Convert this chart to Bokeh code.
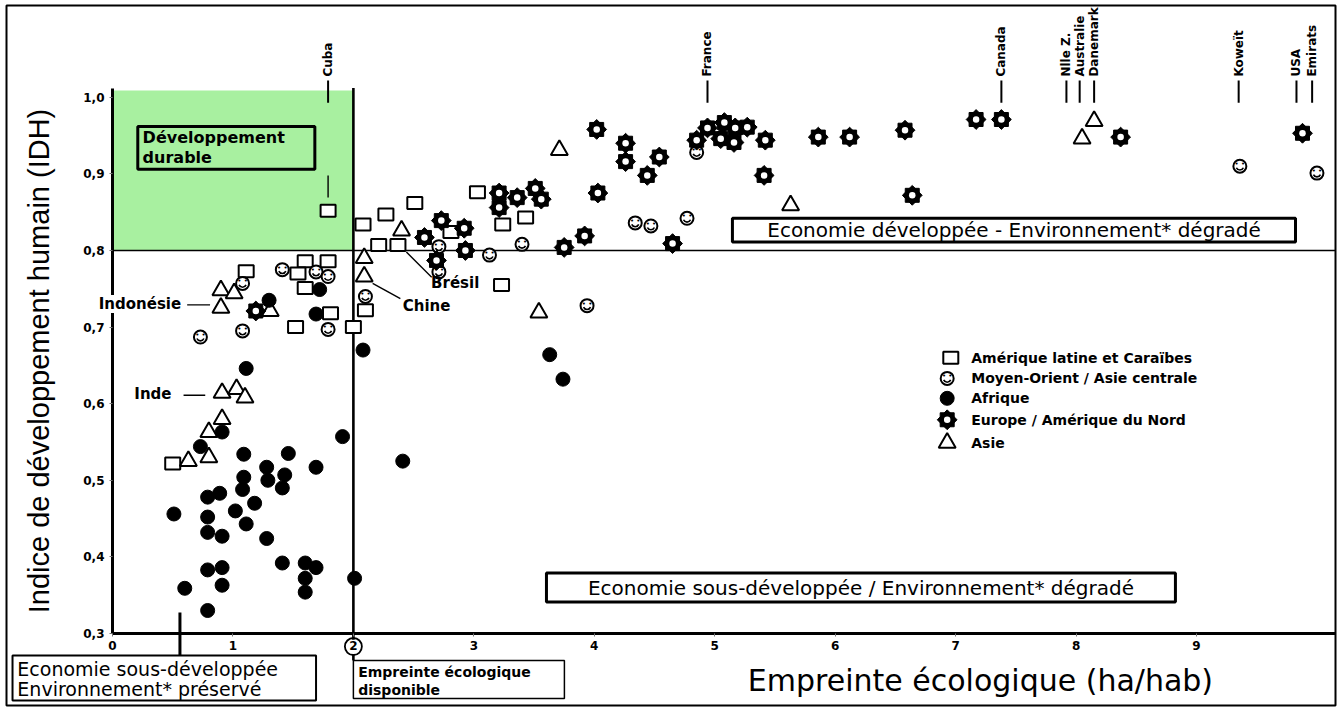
import math
from bokeh.plotting import figure
from bokeh.models import Range1d, FixedTicker, CustomJSTickFormatter, BoxAnnotation, Label
from bokeh.core.properties import value
from bokeh.embed import file_html
from bokeh.resources import INLINE

FONT = "DejaVu Sans"

# ---------------- data ----------------
categories = ["Amérique latine et Caraïbes", "Moyen-Orient / Asie centrale",
              "Afrique", "Europe / Amérique du Nord", "Asie"]

latam_x = [1.79, 2.08, 2.27, 2.51, 2.21, 2.37, 3.03, 3.24, 3.43, 2.81, 3.23, 2.10, 2.00,
           1.11, 1.60, 1.79, 1.54, 1.60, 1.81, 1.52, 0.50]
latam_y = [0.852, 0.834, 0.847, 0.862, 0.807, 0.807, 0.876, 0.834, 0.843, 0.824, 0.755, 0.722, 0.700,
           0.773, 0.786, 0.786, 0.770, 0.751, 0.718, 0.700, 0.522]

mo_x = [0.73, 1.08, 1.08, 1.41, 1.69, 1.79, 1.79, 2.10, 2.71, 2.71, 3.13, 3.40, 3.94,
        4.85, 4.34, 4.47, 4.77, 9.36, 10.0]
mo_y = [0.687, 0.695, 0.757, 0.775, 0.772, 0.766, 0.697, 0.740, 0.805, 0.772, 0.794, 0.808, 0.728,
        0.928, 0.836, 0.832, 0.842, 0.910, 0.901]

af_x = [1.30, 1.72, 1.69, 2.08, 1.11, 0.91, 0.73, 1.09, 1.46, 1.28, 1.09, 1.29, 1.43, 1.69,
        1.91, 2.41, 0.89, 0.79, 1.08, 1.41, 0.51, 0.79, 1.02, 1.18, 0.79, 0.91, 1.11, 1.28,
        1.41, 1.60, 1.69, 1.60, 1.60, 2.01, 0.79, 0.91, 0.91, 0.60, 0.79, 3.63, 3.74]
af_y = [0.735, 0.749, 0.717, 0.670, 0.646, 0.563, 0.544, 0.534, 0.535, 0.517, 0.504, 0.500, 0.507, 0.517,
        0.557, 0.525, 0.483, 0.478, 0.488, 0.490, 0.456, 0.452, 0.460, 0.470, 0.432, 0.427, 0.443, 0.424,
        0.392, 0.392, 0.386, 0.372, 0.354, 0.372, 0.383, 0.386, 0.363, 0.359, 0.330, 0.664, 0.632]

eu_x = [1.19, 2.73, 2.59, 2.92, 2.93, 2.69, 3.21, 3.21, 3.36, 3.51, 3.56, 3.75, 3.92, 4.03,
        4.02, 4.26, 4.26, 4.54, 4.44, 4.65, 4.85, 4.94, 5.08, 5.05, 5.16, 5.17, 5.27, 5.42,
        5.41, 5.86, 6.12, 6.58, 6.64, 7.17, 7.38, 8.37, 9.88]
eu_y = [0.721, 0.839, 0.817, 0.829, 0.800, 0.787, 0.875, 0.856, 0.869, 0.881, 0.867, 0.804, 0.819, 0.875,
        0.958, 0.940, 0.916, 0.922, 0.898, 0.809, 0.944, 0.960, 0.967, 0.946, 0.941, 0.960, 0.961, 0.944,
        0.898, 0.948, 0.948, 0.957, 0.872, 0.971, 0.971, 0.948, 0.953]

as_x = [0.90, 1.01, 0.90, 1.31, 0.91, 1.03, 1.10, 0.91, 0.80, 0.63, 0.80, 2.40, 2.09, 2.09,
        3.54, 5.63, 3.71, 8.15, 8.05]
as_y = [0.748, 0.744, 0.725, 0.721, 0.614, 0.619, 0.608, 0.580, 0.563, 0.525, 0.530, 0.826, 0.790, 0.766,
        0.719, 0.859, 0.931, 0.969, 0.946]

top_names = ["Cuba", "France", "Canada", "Nlle Z.", "Australie", "Danemark", "Koweït", "USA", "Emirats"]
top_x = [1.79, 4.94, 7.38, 7.92, 8.03, 8.15, 9.35, 9.83, 9.96]

x_ticks = [0, 1, 2, 3, 4, 5, 6, 7, 8, 9]
y_ticks = [0.3, 0.4, 0.5, 0.6, 0.7, 0.8, 0.9, 1.0]

IDH_SEUIL = 0.8          # seuil de développement humain élevé
EMPREINTE_DISPO = 2.0    # empreinte écologique disponible (ha/hab)
IDH_MAX = 1.012
X_END = 10.154

# ---------------- figure ----------------
p = figure(width=1340, height=715, output_backend="svg", toolbar_location=None,
           x_range=Range1d(-0.880, X_END), y_range=Range1d(0.206, 1.1198),
           min_border=0)
p.min_border_left = 6
p.min_border_right = 5
p.min_border_top = 5
p.min_border_bottom = 10
p.grid.visible = False
p.outline_line_color = "black"
p.outline_line_width = 2
p.background_fill_color = "white"
p.border_fill_color = "white"

xa = p.xaxis[0]
xa.fixed_location = 0.3
xa.bounds = (0, X_END)
xa.ticker = FixedTicker(ticks=x_ticks)
xa.axis_line_width = 3
xa.axis_line_color = "black"
xa.major_tick_in = 0
xa.major_tick_out = 3
xa.major_tick_line_color = "#777777"
xa.minor_tick_line_color = None
xa.major_label_text_font = FONT
xa.major_label_text_font_style = "bold"
xa.major_label_text_font_size = "12px"
xa.major_label_text_color = "black"
xa.major_label_standoff = 5

ya = p.yaxis[0]
ya.fixed_location = 0
ya.bounds = (0.3, IDH_MAX)
ya.ticker = FixedTicker(ticks=y_ticks)
ya.formatter = CustomJSTickFormatter(code="return tick.toFixed(1).replace('.', ',');")
ya.axis_line_width = 3
ya.axis_line_color = "black"
ya.major_tick_in = 0
ya.major_tick_out = 3
ya.major_tick_line_color = "#777777"
ya.minor_tick_line_color = None
ya.major_label_text_font = FONT
ya.major_label_text_font_style = "bold"
ya.major_label_text_font_size = "12px"
ya.major_label_text_color = "black"
ya.major_label_standoff = 5
ya.axis_label = "Indice de développement humain (IDH)"
ya.axis_label_text_font = "Liberation Sans"
ya.axis_label_text_font_size = "29px"
ya.axis_label_text_font_style = "normal"
ya.axis_label_text_color = "black"
ya.axis_label_standoff = 25

GREEN = "#a8f0a0"

# zone "développement durable"
p.add_layout(BoxAnnotation(left=0, right=EMPREINTE_DISPO, bottom=IDH_SEUIL, top=1.009,
                           fill_color=GREEN, fill_alpha=1, line_alpha=0, level="underlay"))

# text boxes
def tbox(l, r, b, t, fill="white", lw=3):
    p.add_layout(BoxAnnotation(left=l, right=r, bottom=b, top=t, fill_color=fill, fill_alpha=1,
                               line_color="black", line_alpha=1, line_width=lw, level="underlay"))

tbox(0.21, 1.68, 0.906, 0.962, fill=GREEN, lw=3)
tbox(5.147, 9.822, 0.811, 0.842, lw=3)
tbox(3.603, 8.825, 0.341, 0.379, lw=3)
tbox(-0.83, 1.69, 0.2125, 0.2713, lw=2)
tbox(EMPREINTE_DISPO, 3.752, 0.2151, 0.2648, lw=1.5)

# reference lines
p.segment(x0=[0], y0=[IDH_SEUIL], x1=[X_END], y1=[IDH_SEUIL], line_color="black", line_width=1.6)
p.segment(x0=[EMPREINTE_DISPO, EMPREINTE_DISPO], y0=[0.2917, 0.2648],
          x1=[EMPREINTE_DISPO, EMPREINTE_DISPO], y1=[IDH_MAX, 0.2720],
          line_color="black", line_width=2.6)
p.scatter([EMPREINTE_DISPO], [0.283], marker="circle", size=17, fill_color=None,
          line_color="black", line_width=1.8)
p.segment(x0=[0.56], y0=[0.2713], x1=[0.56], y1=[0.3274], line_color="black", line_width=3)

# pointer lines
p.segment(x0=[0.62, 0.59, 2.44, 2.16, 1.79], y0=[0.729, 0.611, 0.798, 0.757, 0.898],
          x1=[0.81, 0.77, 2.65, 2.39, 1.79], y1=[0.729, 0.611, 0.765, 0.737, 0.869],
          line_color="black", line_width=1.4)
p.segment(x0=top_x, y0=[0.993] * len(top_x), x1=top_x, y1=[1.022] * len(top_x),
          line_color="black", line_width=2)

# ---------------- marker helpers ----------------
def draw_square(xs, ys):
    p.rect(xs, ys, width=15, height=12, width_units="screen", height_units="screen",
           fill_color="white", line_color="black", line_width=2)

def draw_triangle(xs, ys):
    p.scatter(xs, ys, marker="triangle", size=17, fill_color="white", line_color="black", line_width=2)

def draw_circle(xs, ys):
    p.scatter(xs, ys, marker="circle", size=14, fill_color="black", line_color="black", line_width=1)

def draw_smiley(xs, ys):
    p.scatter(xs, ys, marker="circle", size=13, fill_color="white", line_color="black", line_width=2)
    p.arc(xs, ys, radius=3.8, radius_units="screen", start_angle=math.pi + 0.4,
          end_angle=2 * math.pi - 0.4, line_color="black", line_width=1.6)
    p.text(xs, ys, text=["• •"] * len(xs), text_font=value(FONT), text_font_size="7px",
           text_align="center", text_baseline="middle", y_offset=-2, text_color="black")

def draw_star(xs, ys):
    p.scatter(xs, ys, marker="square", size=14, angle=0, fill_color="black", line_color="black", line_width=1)
    p.scatter(xs, ys, marker="square", size=14, angle=math.pi / 4, fill_color="black",
              line_color="black", line_width=1)
    p.scatter(xs, ys, marker="circle", size=6.5, fill_color="white", line_color=None)

draw_square(latam_x, latam_y)
draw_triangle(as_x, as_y)
draw_smiley(mo_x, mo_y)
draw_star(eu_x, eu_y)
draw_circle(af_x, af_y)

# ---------------- legend ----------------
leg_y = [0.660, 0.633, 0.607, 0.579, 0.549]
leg_mx = 6.93
draw_square([leg_mx + 0.03], [leg_y[0]])
draw_smiley([leg_mx], [leg_y[1]])
draw_circle([leg_mx], [leg_y[2]])
draw_star([leg_mx], [leg_y[3]])
draw_triangle([leg_mx], [leg_y[4]])
p.text([7.13] * 5, leg_y, text=categories, text_font=value(FONT), text_font_size="14px",
       text_font_style="bold", text_align="left", text_baseline="middle", text_color="black")

# ---------------- texts ----------------
p.text(top_x, [1.027] * len(top_x), text=top_names, angle=math.pi / 2, text_font=value(FONT),
       text_font_size="12px", text_font_style="bold", text_align="left", text_baseline="middle",
       text_color="black")

p.text([0.49], [0.612], text=["Inde"], text_font=value(FONT), text_font_size="15px",
       text_font_style="bold", text_align="right", text_baseline="middle", text_color="black")
p.text([2.645, 2.41], [0.757, 0.727], text=["Brésil", "Chine"], text_font=value(FONT),
       text_font_size="15px", text_font_style="bold", text_align="left", text_baseline="middle",
       text_color="black")
p.add_layout(Label(x=0.57, y=0.730, text="Indonésie", text_font=FONT, text_font_size="15px",
                   text_font_style="bold", text_align="right", text_baseline="middle",
                   text_color="black", background_fill_color="white", background_fill_alpha=1))

p.text([0.25, 0.25], [0.948, 0.922], text=["Développement", "durable"], text_font=value(FONT),
       text_font_size="16px", text_font_style="bold", text_align="left", text_baseline="middle",
       text_color="black")
p.text([7.485], [0.8265], text=["Economie développée - Environnement* dégradé"],
       text_font=value(FONT), text_font_size="20px", text_align="center", text_baseline="middle",
       text_color="black")
p.text([6.214], [0.360], text=["Economie sous-développée / Environnement* dégradé"],
       text_font=value(FONT), text_font_size="20px", text_align="center", text_baseline="middle",
       text_color="black")
p.text([-0.79, -0.79], [0.2543, 0.2269], text=["Economie sous-développée", "Environnement* préservé"],
       text_font=value(FONT), text_font_size="19px", text_align="left", text_baseline="middle",
       text_color="black")
p.text([2.04, 2.04], [0.2491, 0.2256], text=["Empreinte écologique", "disponible"],
       text_font=value(FONT), text_font_size="14px", text_font_style="bold", text_align="left",
       text_baseline="middle", text_color="black")

p.add_layout(Label(x=7.206, y=0.2386, text="Empreinte écologique (ha/hab)", text_font=FONT,
                   text_font_size="30px", text_font_style="normal", text_align="center",
                   text_baseline="middle", text_color="black"))

open("out.html", "w").write(file_html(p, INLINE))
